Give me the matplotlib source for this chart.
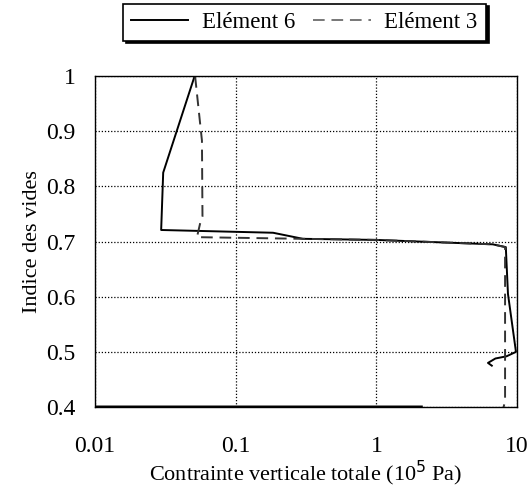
import matplotlib
matplotlib.use('Agg')
import matplotlib.pyplot as plt
from matplotlib.ticker import FixedLocator, FixedFormatter, NullLocator

nan = float('nan')

# Element 6 (solid) : contrainte (10^5 Pa), indice des vides
sig6 = [0.051, 0.0305, 0.0295, 0.184, 0.30, 1.0, 6.7, 8.3, 8.6, 9.8, 8.4, 7.0, 6.2, 6.6, nan, 2.1, 0.01]
e6 = [1.0, 0.825, 0.721, 0.716, 0.705, 0.703, 0.695, 0.690, 0.605, 0.500, 0.492, 0.488, 0.480, 0.475, nan, 0.401, 0.401]

# Element 3 (dashed)
sig3 = [0.0514, 0.0575, 0.058, 0.0557, 0.053, 0.30, 1.0, 6.7, 8.2, 8.2, 8.0]
e3 = [1.0, 0.883, 0.746, 0.732, 0.708, 0.705, 0.703, 0.695, 0.690, 0.41, 0.40]

xticks = [0.01, 0.1, 1, 10]
xlabels = ['0.01', '0.1', '1', '10']
yticks = [0.4, 0.5, 0.6, 0.7, 0.8, 0.9, 1.0]
ylabels = ['0.4', '0.5', '0.6', '0.7', '0.8', '0.9', '1']

plt.rcParams['font.family'] = ['Liberation Serif', 'DejaVu Serif']

fig = plt.figure(figsize=(5.31, 4.91), dpi=100)
ax = fig.add_axes([0.179, 0.171, 0.795, 0.674])

ax.plot(sig6, e6, color='black', lw=1.4, label='Elément 6')
ax.plot(sig3, e3, color='#333333', lw=1.4, ls=(0, (6, 3.5)), label='Elément 3')

ax.set_xscale('log')
ax.set_xlim(0.01, 10)
ax.set_ylim(0.4, 1.0)
ax.xaxis.set_major_locator(FixedLocator(xticks))
ax.xaxis.set_major_formatter(FixedFormatter(xlabels))
ax.xaxis.set_minor_locator(NullLocator())
ax.yaxis.set_major_locator(FixedLocator(yticks))
ax.yaxis.set_major_formatter(FixedFormatter(ylabels))
ax.tick_params(length=0, labelsize=17)
ax.tick_params(axis='x', pad=21)
ax.tick_params(axis='y', pad=14)
ax.grid(True, color='black', ls=(0, (1, 1.5)), lw=0.9)
for s in ax.spines.values():
    s.set_linewidth(1.0)

ax.set_xlabel('Contrainte verticale totale (10$^5$ Pa)', fontsize=16, labelpad=1)
ax.set_ylabel('Indice des vides', fontsize=16, labelpad=3)

leg = fig.legend(loc='center', bbox_to_anchor=(0.573, 0.955), ncol=2,
                 fancybox=False, shadow={'color': 'black', 'alpha': 1.0},
                 edgecolor='black', framealpha=1, fontsize=16.5,
                 handlelength=2.5, columnspacing=0.8, handletextpad=0.6,
                 borderpad=0.35, borderaxespad=0)
leg.get_frame().set_linewidth(1.2)
leg.legend_handles[1].set_color('#777777')

fig.savefig('out.png', dpi=100)
